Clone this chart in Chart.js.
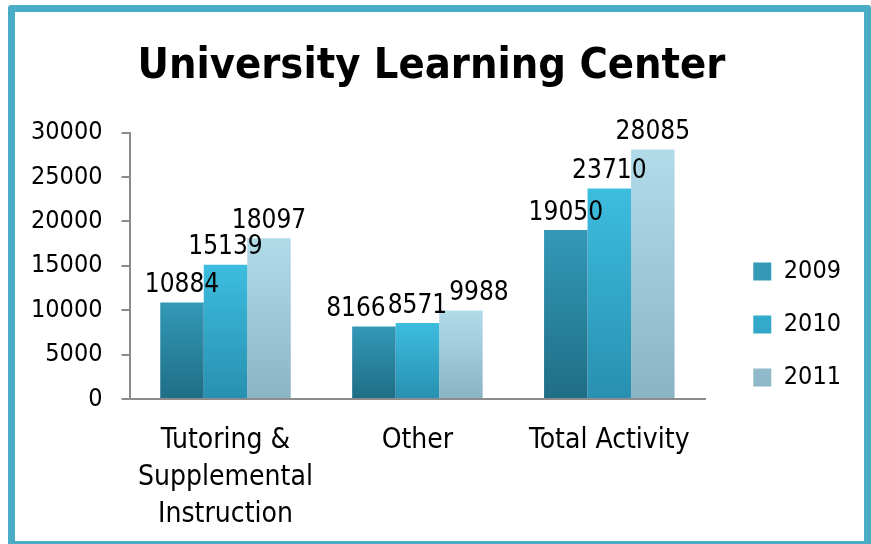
<!DOCTYPE html>
<html>
<head>
<meta charset="utf-8">
<script src="https://cdn.jsdelivr.net/npm/chart.js@4/dist/chart.umd.min.js"></script>
<style>
  body { margin: 0; background: #fff; overflow: hidden; }
  #wrap { position: relative; width: 871px; height: 544px; overflow: hidden; }
  #frame { position: absolute; left: 8px; top: 5px; width: 849px; height: 529px; border: 7px solid #4BACC6; border-radius: 3px; }
  #chart { position: absolute; left: 0; top: 0; }
</style>
</head>
<body>
<div id="wrap">
  <div id="frame"></div>
  <canvas id="chart" width="871" height="544"></canvas>
</div>
<script>
const categories = [['Tutoring &', 'Supplemental', 'Instruction'], 'Other', 'Total Activity'];
const years = ['2009', '2010', '2011'];
const values2009 = [10884, 8166, 19050];
const values2010 = [15139, 8571, 23710];
const values2011 = [18097, 9988, 28085];
const yTicks = [0, 5000, 10000, 15000, 20000, 25000, 30000];

// top / bottom shade of each series
const shades = [
    ['#3399B7', '#1F6D86'],
    ['#3DBDDF', '#2890B0'],
    ['#B2DBEA', '#8AB4C4']
];

const FONT = '"DejaVu Sans Condensed", "DejaVu Sans", sans-serif';

function barFill(i) {
    return function(c) {
        if (c.type !== 'data' || !c.chart.chartArea) return shades[i][0];
        const y = c.chart.scales.y;
        const top = y.getPixelForValue(c.raw);
        const base = y.getPixelForValue(0);
        const g = c.chart.ctx.createLinearGradient(0, top, 0, base);
        g.addColorStop(0, shades[i][0]);
        g.addColorStop(1, shades[i][1]);
        return g;
    };
}

// value above each bar, pushed apart sideways when neighbours collide
const valueLabels = {
    id: 'valueLabels',
    afterDatasetsDraw(chart) {
        const ctx = chart.ctx;
        ctx.save();
        ctx.font = '26px ' + FONT;
        ctx.fillStyle = '#000';
        ctx.textAlign = 'center';
        ctx.textBaseline = 'bottom';
        const n = chart.data.datasets.length;
        chart.data.labels.forEach((_, j) => {
            const items = [];
            for (let i = 0; i < n; i++) {
                const bar = chart.getDatasetMeta(i).data[j];
                const text = String(chart.data.datasets[i].data[j]);
                items.push({ text, x: bar.x, y: bar.y - 4, w: ctx.measureText(text).width });
            }
            for (let k = 0; k < 6; k++) {
                for (let i = 0; i < n - 1; i++) {
                    const a = items[i], b = items[i + 1];
                    if (Math.abs(a.y - b.y) > 24) continue;
                    const overlap = (a.x + a.w / 2 + 2) - (b.x - b.w / 2);
                    if (overlap > 0) { a.x -= overlap / 2; b.x += overlap / 2; }
                }
            }
            items.forEach(it => ctx.fillText(it.text, it.x, it.y));
        });
        ctx.restore();
    }
};

new Chart(document.getElementById('chart'), {
    type: 'bar',
    data: {
        labels: categories,
        datasets: [
            { label: years[0], data: values2009, backgroundColor: barFill(0) },
            { label: years[1], data: values2010, backgroundColor: barFill(1) },
            { label: years[2], data: values2011, backgroundColor: barFill(2) }
        ]
    },
    options: {
        responsive: false,
        animation: false,
        layout: { padding: { left: 12, right: 20, top: 20, bottom: -12 } },
        datasets: { bar: { categoryPercentage: 0.68, barPercentage: 1 } },
        plugins: {
            title: {
                display: true,
                text: 'University Learning Center',
                color: '#000',
                font: { family: FONT, size: 43, weight: 'bold' },
                padding: { top: 21, bottom: 40 }
            },
            legend: {
                position: 'right',
                title: { display: true, text: ' ', font: { size: 10, lineHeight: 1 }, padding: { top: 63, bottom: 0 } },
                labels: {
                    color: '#000',
                    font: { family: FONT, size: 25 },
                    boxWidth: 18,
                    boxHeight: 18,
                    padding: 28
                }
            },
            tooltip: { enabled: false }
        },
        scales: {
            x: {
                grid: { display: false, drawTicks: false },
                border: { color: '#8C8C8C', width: 2 },
                ticks: { color: '#000', font: { family: FONT, size: 28, lineHeight: 1.32 }, padding: 23, maxRotation: 0 }
            },
            y: {
                min: 0,
                max: 30000,
                grid: { display: true, drawOnChartArea: false, drawTicks: true, tickLength: 8, color: '#8C8C8C', lineWidth: 2 },
                border: { color: '#8C8C8C', width: 2 },
                afterBuildTicks: s => { s.ticks = yTicks.map(v => ({ value: v })); },
                ticks: { color: '#000', font: { family: FONT, size: 25 }, padding: 19, callback: v => String(v) }
            },
            pad: {
                position: 'right',
                grid: { display: false },
                border: { display: false },
                ticks: { display: false },
                afterFit: s => { s.width = 20; }
            }
        }
    },
    plugins: [valueLabels]
});
</script>
</body>
</html>
